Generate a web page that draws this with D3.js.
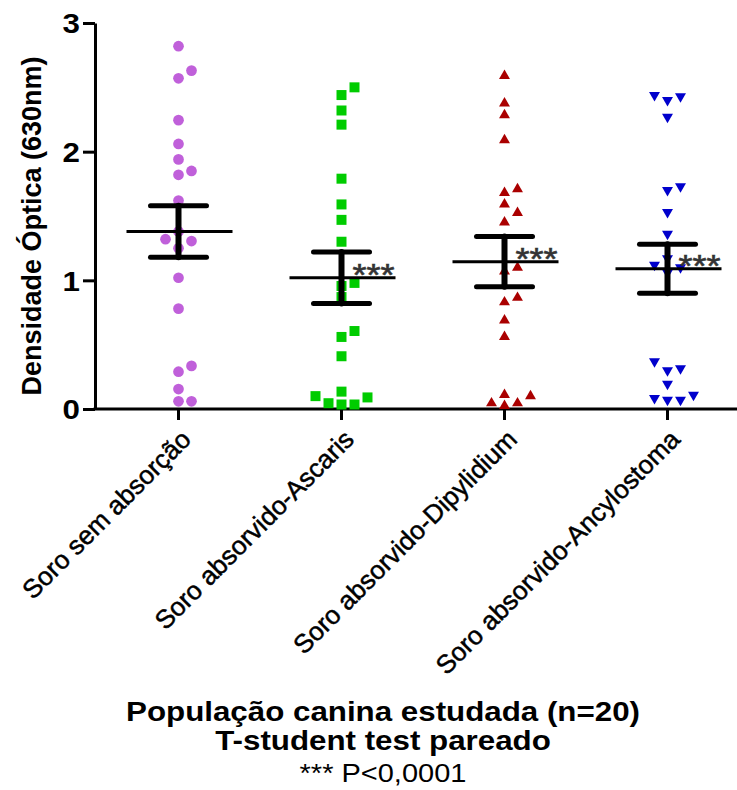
<!DOCTYPE html>
<html>
<head>
<meta charset="utf-8">
<script src="https://cdn.jsdelivr.net/npm/d3@7"></script>
<style>
  body { margin: 0; background: #fff; }
  text { font-family: "Liberation Sans", Arial, sans-serif; }
</style>
</head>
<body>
<div class="plot"></div>
<script>
// values (densidade óptica, 20 animals per group)
const categories = ['Soro sem absorção', 'Soro absorvido-Ascaris', 'Soro absorvido-Dipylidium', 'Soro absorvido-Ancylostoma'];
const semAbsorcao = [2.82, 2.63, 2.57, 2.245, 2.06, 1.94, 1.85, 1.82, 1.62, 1.38, 1.32, 1.305, 1.25, 1.02, 0.78, 0.335, 0.29, 0.155, 0.06, 0.06];
const ascaris = [2.50, 2.44, 2.32, 2.21, 1.79, 1.59, 1.47, 1.30, 0.98, 0.956, 0.87, 0.606, 0.56, 0.41, 0.135, 0.10, 0.09, 0.045, 0.035, 0.035];
const dipylidium = [2.59, 2.375, 2.285, 2.09, 1.71, 1.68, 1.59, 1.525, 1.45, 1.10, 1.07, 0.865, 0.83, 0.69, 0.56, 0.11, 0.10, 0.045, 0.045, 0.025];
const ancylostoma = [2.44, 2.43, 2.40, 2.27, 1.73, 1.70, 1.53, 1.36, 1.17, 1.12, 1.10, 1.06, 0.37, 0.315, 0.30, 0.195, 0.11, 0.085, 0.07, 0.07];
const means = [1.38, 1.02, 1.145, 1.09];
const sems = [0.2, 0.2, 0.195, 0.19];
const signif = ['', '***', '***', '***'];
const yTicks = [0, 1, 2, 3];
const titleLines = ['População canina estudada (n=20)', 'T-student test pareado'];
const noteLine = '*** P<0,0001';

const W = 737, H = 790;
const sx = 1.16; // text in the source is a bit wider than Arial
const colors = ['#C060DA', '#00CC00', '#AA0000', '#0000CC'];
const series = [semAbsorcao, ascaris, dipylidium, ancylostoma];

const svg = d3.select('.plot')
    .append('svg')
    .attr('width', W)
    .attr('height', H);

const x = d3.scaleBand()
    .domain(categories)
    .range([97, 749]);

const y = d3.scaleLinear()
    .domain([0, 3])
    .range([409, 23]);

// Y axis
const yAxis = svg.append('g')
    .attr('transform', 'translate(95,0)')
    .call(d3.axisLeft(y).tickValues(yTicks).tickFormat(d3.format('d')).tickSize(12).tickSizeOuter(0));
yAxis.select('.domain').attr('stroke-width', 3);
yAxis.selectAll('.tick line').attr('stroke-width', 3);
yAxis.selectAll('.tick text')
    .attr('x', -15 / sx)
    .attr('dy', '0.36em')
    .attr('transform', `scale(${sx},1)`)
    .attr('font-size', 27)
    .attr('font-weight', 'bold')
    .attr('fill', '#000');

// X axis
const xAxis = svg.append('g')
    .attr('transform', `translate(0,${y(0)})`)
    .call(d3.axisBottom(x).tickSize(11).tickSizeOuter(0));
xAxis.select('.domain').remove();
xAxis.selectAll('.tick line').attr('stroke-width', 3);
xAxis.selectAll('.tick text')
    .attr('x', 0).attr('y', 0).attr('dy', 0)
    .attr('transform', 'translate(14,32) rotate(-45)')
    .style('text-anchor', 'end')
    .attr('font-size', 26)
    .attr('fill', '#000')
    .attr('stroke', '#000')
    .attr('stroke-width', 0.5);
svg.append('line')
    .attr('x1', 93.5).attr('x2', W)
    .attr('y1', y(0)).attr('y2', y(0))
    .attr('stroke', '#000')
    .attr('stroke-width', 3);

// y title
svg.append('text')
    .attr('transform', `translate(41,${(y(0) + y(3)) / 2 + 10}) rotate(-90)`)
    .attr('text-anchor', 'middle')
    .attr('font-size', 27)
    .attr('font-weight', 'bold')
    .text('Densidade Óptica (630nm)');

// scatter with prism-like column spreading
const colStep = 13, minGap = 10;
const symbols = [
    d3.symbol().type(d3.symbolCircle).size(90),
    d3.symbol().type(d3.symbolSquare).size(100),
    d3.symbol().type(d3.symbolTriangle).size(52),
    d3.symbol().type(d3.symbolTriangle).size(52)
];

series.forEach((vals, gi) => {
    const cx = x(categories[gi]) + x.bandwidth() / 2;
    const placed = [];
    const order = [0, 1, -1, 2, -2, 3, -3];
    vals.slice().sort((a, b) => a - b).forEach(v => {
        const py = y(v);
        const col = order.find(c => !placed.some(p => p.col === c && Math.abs(p.py - py) < minGap));
        placed.push({ col, py, v });
    });
    svg.append('g')
        .selectAll('path')
        .data(placed)
        .enter()
        .append('path')
        .attr('d', symbols[gi])
        .attr('fill', colors[gi])
        .attr('transform', d => `translate(${cx + d.col * colStep},${d.py})` + (gi === 3 ? ' rotate(180)' : ''));
});

// mean +/- SEM
categories.forEach((c, i) => {
    const cx = x(c) + x.bandwidth() / 2;
    const g = svg.append('g').attr('stroke', '#000').attr('stroke-linecap', 'round');
    g.append('line')
        .attr('x1', cx).attr('x2', cx)
        .attr('y1', y(means[i] - sems[i])).attr('y2', y(means[i] + sems[i]))
        .attr('stroke-width', 6);
    [means[i] - sems[i], means[i] + sems[i]].forEach(v => {
        g.append('line')
            .attr('x1', cx - 28).attr('x2', cx + 28)
            .attr('y1', y(v)).attr('y2', y(v))
            .attr('stroke-width', 5);
    });
    g.append('line')
        .attr('x1', cx - 52).attr('x2', cx + 54)
        .attr('y1', y(means[i])).attr('y2', y(means[i]))
        .attr('stroke-width', 3)
        .attr('stroke-linecap', 'butt');
    if (signif[i]) {
        svg.append('text')
            .attr('transform', `translate(${cx + 11},${y(means[i]) + 8}) scale(${sx},1)`)
            .attr('font-size', 31)
            .attr('fill', '#333')
            .attr('stroke', '#333')
            .attr('stroke-width', 0.6)
            .text(signif[i]);
    }
});

// bottom titles
titleLines.forEach((t, i) => {
    svg.append('text')
        .attr('transform', `translate(383,${721 + i * 29}) scale(${sx},1)`)
        .attr('text-anchor', 'middle')
        .attr('font-size', 27)
        .attr('font-weight', 'bold')
        .text(t);
});
svg.append('text')
    .attr('transform', `translate(383,782) scale(${sx},1)`)
    .attr('text-anchor', 'middle')
    .attr('font-size', 25)
    .text(noteLine);
</script>
</body>
</html>
